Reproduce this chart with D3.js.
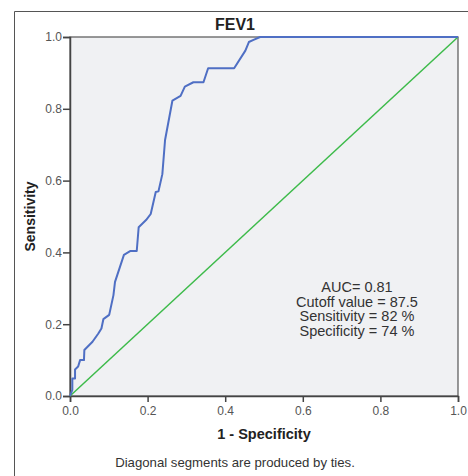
<!DOCTYPE html>
<html>
<head>
<meta charset="utf-8">
<script src="https://cdn.jsdelivr.net/npm/d3@7"></script>
<style>
  body { margin: 0; background: #fff; }
  svg text { font-family: "Liberation Sans", Arial, sans-serif; }
</style>
</head>
<body>
<div id="chart"></div>
<script>
// ROC curve points (1 - specificity, sensitivity)
var fpr = [0, 0.006, 0.006, 0.013, 0.013, 0.021, 0.026, 0.036, 0.037, 0.058, 0.073, 0.081, 0.086, 0.101, 0.112, 0.116,
           0.139, 0.156, 0.172, 0.177, 0.196, 0.208, 0.221, 0.228, 0.238, 0.245, 0.264, 0.285, 0.296, 0.318, 0.344,
           0.356, 0.423, 0.452, 0.461, 0.473, 0.490, 1.0];
var tpr = [0, 0.017, 0.049, 0.049, 0.074, 0.082, 0.100, 0.100, 0.128, 0.151, 0.174, 0.188, 0.214, 0.226, 0.281, 0.318,
           0.393, 0.404, 0.404, 0.470, 0.490, 0.507, 0.568, 0.570, 0.618, 0.713, 0.823, 0.836, 0.862, 0.874, 0.874,
           0.913, 0.913, 0.962, 0.986, 0.992, 1.0, 1.0];
var refLine = [0, 1];
var tickValues = [0, 0.2, 0.4, 0.6, 0.8, 1.0];
var statsText = ["AUC= 0.81", "Cutoff value = 87.5", "Sensitivity = 82 %", "Specificity = 74 %"];

(function() {
var W = 468, H = 476;
var svg = d3.select("#chart").append("svg")
    .attr("width", W)
    .attr("height", H);

// outer frame (clipped at right/bottom like the original)
svg.append("path")
    .attr("d", "M14.5," + H + "V11.5H" + W)
    .attr("fill", "none")
    .attr("stroke", "#555")
    .attr("stroke-width", 1);

var pLeft = 70, pRight = 458, pTop = 37, pBottom = 396;

var x = d3.scaleLinear().domain([0, 1]).range([pLeft, pRight]);
var y = d3.scaleLinear().domain([0, 1]).range([pBottom, pTop]);

// plot background
svg.append("rect")
    .attr("x", x(0))
    .attr("y", y(1))
    .attr("width", x(1) - x(0))
    .attr("height", y(0) - y(1))
    .attr("fill", "#f0f1f3")
    .attr("stroke", "#555")
    .attr("stroke-width", 1.2);

// axes
var xAxis = svg.append("g")
    .attr("transform", "translate(0," + pBottom + ")")
    .call(d3.axisBottom(x).tickValues(tickValues).tickFormat(d3.format(".1f")).tickSizeOuter(0).tickSize(6));
var yAxis = svg.append("g")
    .attr("transform", "translate(" + pLeft + ",0)")
    .call(d3.axisLeft(y).tickValues(tickValues).tickFormat(d3.format(".1f")).tickSizeOuter(0).tickSize(7));

[xAxis, yAxis].forEach(function(a) {
    a.select(".domain").attr("stroke", "#444").attr("stroke-width", 1.5);
    a.selectAll(".tick line").attr("stroke", "#444").attr("stroke-width", 1.5);
    a.selectAll(".tick text")
        .attr("fill", "#555")
        .attr("font-size", "12px")
        .style("font-family", "'Liberation Sans', Arial, sans-serif");
});
xAxis.selectAll(".tick text").attr("dy", "0.85em");
yAxis.selectAll(".tick text").attr("x", -8);

// reference diagonal
svg.append("line")
    .attr("x1", x(refLine[0])).attr("y1", y(refLine[0]))
    .attr("x2", x(refLine[1])).attr("y2", y(refLine[1]))
    .attr("stroke", "#3dbb4a")
    .attr("stroke-width", 1.5);

// ROC curve
var pts = fpr.map(function(d, i) { return [d, tpr[i]]; });
svg.append("path")
    .datum(pts)
    .attr("d", d3.line().x(function(d) { return x(d[0]); }).y(function(d) { return y(d[1]); }))
    .attr("fill", "none")
    .attr("stroke", "#4f6fc4")
    .attr("stroke-width", 2)
    .attr("stroke-linejoin", "round");

// title
svg.append("text")
    .attr("x", 235)
    .attr("y", 30)
    .attr("text-anchor", "middle")
    .attr("font-size", "16px")
    .attr("font-weight", "bold")
    .attr("fill", "#222")
    .text("FEV1");

// axis titles
svg.append("text")
    .attr("x", (pLeft + pRight) / 2)
    .attr("y", 439)
    .attr("text-anchor", "middle")
    .attr("font-size", "14.5px")
    .attr("font-weight", "bold")
    .attr("fill", "#222")
    .text("1 - Specificity");

svg.append("text")
    .attr("transform", "translate(35," + ((pTop + pBottom) / 2) + ") rotate(-90)")
    .attr("text-anchor", "middle")
    .attr("font-size", "14px")
    .attr("font-weight", "bold")
    .attr("fill", "#222")
    .text("Sensitivity");

// stats annotation
svg.append("g").selectAll("text")
    .data(statsText)
    .enter()
    .append("text")
    .attr("x", 357)
    .attr("y", function(d, i) { return 292 + i * 14.7; })
    .attr("text-anchor", "middle")
    .attr("font-size", "14.5px")
    .attr("fill", "#333")
    .text(function(d) { return d; });

// footnote
svg.append("text")
    .attr("x", 235)
    .attr("y", 467)
    .attr("text-anchor", "middle")
    .attr("font-size", "13.2px")
    .attr("fill", "#333")
    .text("Diagonal segments are produced by ties.");
})();
</script>
</body>
</html>
